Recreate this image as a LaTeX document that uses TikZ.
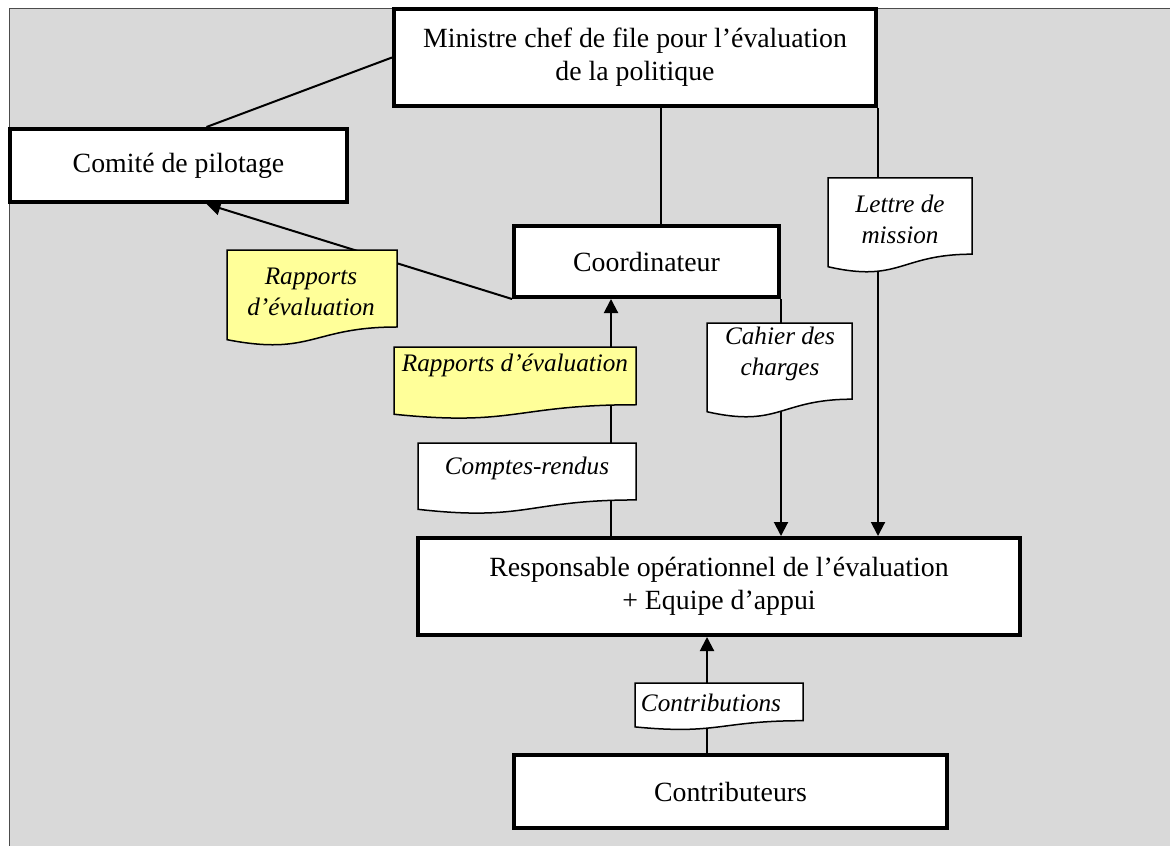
\documentclass[tikz,border=0pt]{standalone}
\usepackage{fontspec}
\setmainfont{Liberation Serif}
\usetikzlibrary{arrows.meta, calc}
\definecolor{fondgris}{RGB}{217,217,217}
\definecolor{jaune}{RGB}{255,255,153}
\pgfdeclarelayer{fond}
\pgfdeclarelayer{liens}
\pgfdeclarelayer{docs}
\pgfsetlayers{fond,liens,docs,main}
\newcommand\taille{\fontsize{13.9}{16.5}\selectfont}
\newcommand\petit{\fontsize{12.6}{15.5}\selectfont}
\tikzset{
    boite/.style = {draw, fill=white, line width=2pt, align=center, inner sep=0pt},
    doctexte/.style = {font=\petit\itshape, align=center, inner sep=0pt},
    docline/.style = {draw, line width=0.75pt},
}
\tikzset{
    lien/.style = {draw, line width=1pt},
    fleche/.style = {lien, -{Triangle[length=7pt, width=7pt]}},
}
% document shape: left, top, right, height, fill
\newcommand\docshape[5]{%
    \path[docline, fill=#5] (#1,#2) -- (#3,#2) -- (#3,{#2+0.802*#4})
        .. controls ({(#1+#3)/2},{#2+0.802*#4}) and ({(#1+#3)/2},{#2+1.107*#4})
        .. (#1,{#2+0.934*#4}) -- cycle;}
\begin{document}
\begin{tikzpicture}[x=0.5pt, y=-0.5pt, font=\taille]
				\useasboundingbox (0,0) rectangle (1170,845);
				\begin{pgfonlayer}{fond}
					\path[fill=fondgris, draw=black!70, line width=0.5pt] (9,9) rectangle (1175,850);
				\end{pgfonlayer}

				\node[boite, minimum width=241pt, minimum height=48.5pt] (ministre) at (635,57.5) {Ministre chef de file pour l’évaluation\\de la politique};
				\node[boite, minimum width=168.5pt, minimum height=36.5pt] (comite) at (178.5,165.5) {Comité de pilotage};
				\node[boite, minimum width=132.5pt, minimum height=35.5pt] (coord) at (646.5,261.5) {Coordinateur};
				\node[boite, minimum width=301pt, minimum height=48.5pt] (resp) at (719,586.5) {Responsable opérationnel de l’évaluation\\+ Equipe d’appui};
				\node[boite, minimum width=216.5pt, minimum height=36.5pt] (contrib) at (730.5,791.5) {Contributeurs};

				\node[doctexte] (rapportsA) at (311,292) {Rapports\\d’évaluation};
				\node[doctexte] (rapportsB) at (515,365) {Rapports d’évaluation};
				\node[doctexte] (lettre) at (900,219) {Lettre de\\mission};
				\node[doctexte] (cahier) at (780,354) {Cahier des\\charges};
				\node[doctexte] (comptes) at (527,468) {Comptes-rendus};
				\node[doctexte] (contributions) at (711,703) {Contributions};

				\begin{pgfonlayer}{docs}
					\docshape{227}{250}{397}{96}{jaune}
					\docshape{394}{347}{636}{72}{jaune}
					\docshape{828}{178}{972}{95}{white}
					\docshape{707}{323}{852}{95}{white}
					\docshape{418}{443}{636}{71}{white}
					\docshape{635}{683}{803}{47}{white}
				\end{pgfonlayer}

				\begin{pgfonlayer}{liens}
					\draw[lien] (ministre.west) -- ($(comite.north)+(28,0)$);
					\draw[lien] ($(coord.north)+(14,0)$) coordinate (c1) -- (c1 |- ministre.south);
					\draw[fleche] (coord.south west) -- ($(comite.south)+(28,0)$);
					\draw[fleche] ($(resp.north)+(-108,0)$) coordinate (c2) -- (c2 |- coord.south);
					\draw[fleche] (coord.south east) -- (coord.south east |- resp.north);
					\draw[fleche] (ministre.south east) -- (ministre.south east |- resp.north);
					\draw[fleche] ($(contrib.north)+(-23.5,0)$) coordinate (c3) -- (c3 |- resp.south);
				\end{pgfonlayer}
			\end{tikzpicture}
\end{document}
